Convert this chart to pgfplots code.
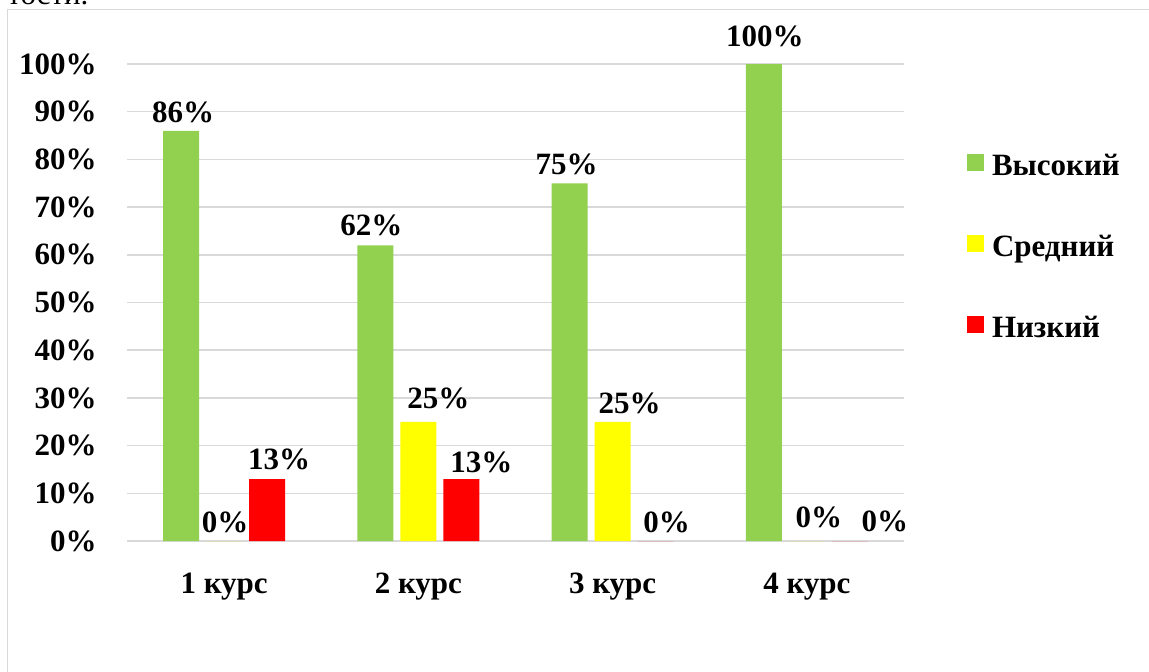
\documentclass[border=0pt]{standalone}
\usepackage{pgfplots}
\pgfplotsset{compat=1.18}
\usepackage{pgfplotstable}
\usepackage{fontspec}
\setmainfont{Liberation Serif}
\definecolor{cgreen}{HTML}{92D050}
\definecolor{cyellow}{HTML}{FFFF00}
\definecolor{cred}{HTML}{FF0000}
\definecolor{gridgray}{HTML}{D9D9D9}
\newcommand{\lblfont}{\bfseries\fontsize{15.5}{18}\selectfont}

% x: category, y: percent, dx / gap: label offsets (pt)
\pgfplotstableread{
x y dx gap
0 86 1 3.5
1 62 -2 4.5
2 75 -1.5 4
3 100 0.5 8.5
}\high
\pgfplotstableread{
x y dx gap
0 0 0.5 4
1 25 10 6
2 25 8.5 3.5
3 0 6 6.5
}\mid
\pgfplotstableread{
x y dx gap
0 13 6 4.5
1 13 10 3
2 0 5.5 4
3 0 17.5 4.5
}\low

\pgfplotsset{sqlegend/.style={legend image code/.code={\fill[##1,draw=none] (0pt,-2pt) rectangle (8.5pt,6.5pt);}}}

\begin{document}
\begin{tikzpicture}
\useasboundingbox (0,0) rectangle (574.5pt,-335.5pt);
\clip (0,0) rectangle (574.5pt,-335.5pt);
\node[anchor=base west, inner sep=0pt, font=\fontsize{15.5}{18}\selectfont] at (3.5pt,-2.25pt) {тости.};
\draw[draw=gridgray, line width=0.75pt] (3.75pt,-4.75pt) rectangle (600pt,-400pt);
\begin{axis}[
  at={(63.5pt,-270.5pt)}, anchor=south west,
  scale only axis, width=388.5pt, height=238.5pt,
  xmin=-0.5, xmax=3.5, ymin=0, ymax=100,
  ybar=3.5pt, bar width=18pt,
  xtick={0,1,2,3}, xticklabels={1 курс,2 курс,3 курс,4 курс},
  ytick={0,10,...,100}, yticklabel={\pgfmathprintnumber{\tick}\%},
  /pgf/number format/assume math mode=true,
  major tick length=0pt,
  axis line style={draw=none},
  ymajorgrids, grid style={draw=gridgray, line width=0.75pt},
  ticklabel style={font=\lblfont, inner sep=0pt},
  yticklabel style={anchor=east, xshift=-15pt},
  xticklabel style={anchor=north, yshift=-16pt},
  clip=false,
  point meta=y,
  visualization depends on={\thisrow{dx} \as \dx},
  visualization depends on={\thisrow{gap} \as \gap},
  nodes near coords={\pgfmathprintnumber{\pgfplotspointmeta}\%},
  every node near coord/.append style={font=\lblfont, anchor=south, inner sep=0pt, xshift=\dx pt, yshift=\gap pt, text=black},
  legend cell align=left,
  legend style={at={(1.0811,0.8176)}, anchor=north west, draw=none, fill=none,
    inner sep=0pt, outer sep=0pt, font=\lblfont, row sep=24.5pt, column sep=4pt,
    nodes={inner sep=0pt, text height=12pt, text depth=4pt}},
]
\addplot[fill=cgreen, draw=none, sqlegend] table[x=x, y=y] {\high};
\addplot[fill=cyellow, draw=none, sqlegend] table[x=x, y=y] {\mid};
\addplot[fill=cred, draw=none, sqlegend] table[x=x, y=y] {\low};
\legend{Высокий, Средний, Низкий}
\end{axis}
\end{tikzpicture}
\end{document}
